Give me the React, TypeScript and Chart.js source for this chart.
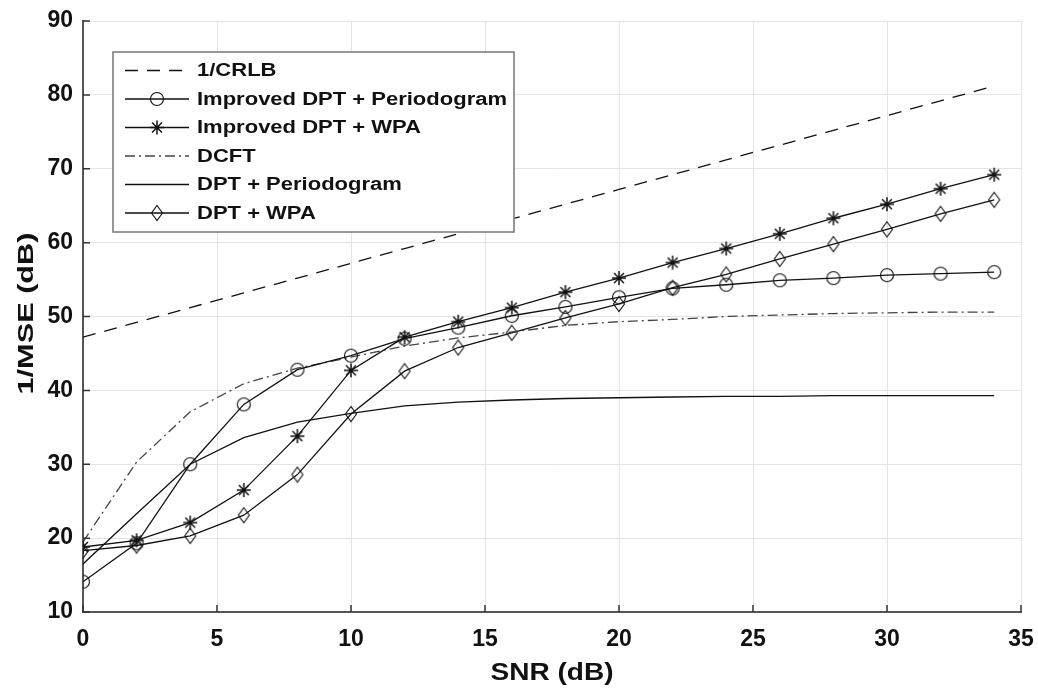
import React, { useEffect, useRef } from "react";
import { Chart, registerables } from "chart.js";
Chart.register(...registerables);

const snr = [0, 2, 4, 6, 8, 10, 12, 14, 16, 18, 20, 22, 24, 26, 28, 30, 32, 34];
const crlb = [47.2, 49.2, 51.2, 53.2, 55.2, 57.2, 59.2, 61.2, 63.2, 65.2, 67.2, 69.2, 71.2, 73.2, 75.2, 77.2, 79.2, 81.2];
const impDptPer = [14.1, 19.3, 30.0, 38.1, 42.8, 44.7, 47.0, 48.5, 50.1, 51.3, 52.6, 53.8, 54.3, 54.9, 55.2, 55.6, 55.8, 56.0];
const impDptWpa = [18.8, 19.7, 22.1, 26.5, 33.8, 42.7, 47.2, 49.3, 51.2, 53.3, 55.2, 57.3, 59.2, 61.2, 63.3, 65.2, 67.3, 69.2];
const dcft = [19.5, 30.3, 37.1, 40.9, 43.0, 44.5, 46.0, 47.1, 47.9, 48.8, 49.3, 49.6, 50.0, 50.2, 50.4, 50.5, 50.6, 50.6];
const dptPer = [16.5, 23.3, 30.0, 33.6, 35.7, 36.9, 37.9, 38.4, 38.7, 38.9, 39.0, 39.1, 39.2, 39.2, 39.3, 39.3, 39.3, 39.3];
const dptWpa = [18.3, 19.0, 20.3, 23.1, 28.6, 36.8, 42.6, 45.8, 47.8, 49.8, 51.7, 53.9, 55.7, 57.8, 59.8, 61.8, 63.9, 65.8];

const xTitle = "SNR (dB)";
const yTitle = "1/MSE (dB)";
const seriesNames = [
  "1/CRLB",
  "Improved DPT + Periodogram",
  "Improved DPT + WPA",
  "DCFT",
  "DPT + Periodogram",
  "DPT + WPA",
];
const seriesValues = [crlb, impDptPer, impDptWpa, dcft, dptPer, dptWpa];
const seriesMarkers = ["none", "circle", "star", "none", "none", "diamond"];
const seriesDash: number[][] = [[13, 9], [], [], [10, 4, 2, 4], [], []];

const FONT = "'Liberation Sans', Arial, Helvetica, sans-serif";

function drawMarker(ctx: CanvasRenderingContext2D, kind: string, x: number, y: number) {
  ctx.save();
  ctx.setLineDash([]);
  ctx.strokeStyle = "#111";
  ctx.lineWidth = 1.1;
  ctx.beginPath();
  if (kind === "circle") {
    ctx.arc(x, y, 6.5, 0, Math.PI * 2);
  } else if (kind === "diamond") {
    ctx.moveTo(x, y - 7.5);
    ctx.lineTo(x + 5.5, y);
    ctx.lineTo(x, y + 7.5);
    ctx.lineTo(x - 5.5, y);
    ctx.closePath();
  } else if (kind === "star") {
    const r = 7;
    const d = r * Math.SQRT1_2;
    ctx.lineWidth = 1.5;
    ctx.moveTo(x - r, y); ctx.lineTo(x + r, y);
    ctx.moveTo(x, y - r); ctx.lineTo(x, y + r);
    ctx.moveTo(x - d, y - d); ctx.lineTo(x + d, y + d);
    ctx.moveTo(x - d, y + d); ctx.lineTo(x + d, y - d);
  }
  ctx.stroke();
  ctx.restore();
}

function markerCanvas(kind: string): HTMLCanvasElement {
  const c = document.createElement("canvas");
  c.width = 18;
  c.height = 18;
  const ctx = c.getContext("2d")!;
  drawMarker(ctx, kind, 9, 9);
  return c;
}

function stretchedText(
  ctx: CanvasRenderingContext2D,
  text: string,
  x: number,
  y: number,
  size: number,
  width: number,
  align: "left" | "center",
  rotate = 0
) {
  ctx.save();
  ctx.font = `bold ${size}px ${FONT}`;
  const w = ctx.measureText(text).width;
  const sx = width / w;
  ctx.translate(x, y);
  if (rotate) ctx.rotate(rotate);
  ctx.scale(sx, 1);
  ctx.fillStyle = "#111";
  ctx.textBaseline = "middle";
  ctx.textAlign = align;
  ctx.fillText(text, 0, 0);
  ctx.restore();
}

const innerTicksPlugin = {
  id: "innerTicks",
  afterDatasetsDraw(chart: any) {
    const ctx = chart.ctx as CanvasRenderingContext2D;
    const xs = chart.scales.x;
    const ys = chart.scales.y;
    const area = chart.chartArea;
    ctx.save();
    ctx.strokeStyle = "#333";
    ctx.lineWidth = 1.5;
    ctx.beginPath();
    xs.ticks.forEach((t: any) => {
      const px = xs.getPixelForValue(t.value);
      ctx.moveTo(px, area.bottom);
      ctx.lineTo(px, area.bottom - 7);
    });
    ys.ticks.forEach((t: any) => {
      const py = ys.getPixelForValue(t.value);
      ctx.moveTo(area.left, py);
      ctx.lineTo(area.left + 7, py);
    });
    ctx.stroke();
    ctx.restore();
  },
};

const axisTitlesPlugin = {
  id: "axisTitles",
  afterDraw(chart: any) {
    const ctx = chart.ctx as CanvasRenderingContext2D;
    const area = chart.chartArea;
    const cx = (area.left + area.right) / 2;
    const cy = (area.top + area.bottom) / 2;
    stretchedText(ctx, xTitle, cx, 674, 23, 123, "center");
    stretchedText(ctx, yTitle, 27, cy - 3, 22, 162, "center", -Math.PI / 2);
  },
};

const boxLegendPlugin = {
  id: "boxLegend",
  afterDraw(chart: any) {
    const ctx = chart.ctx as CanvasRenderingContext2D;
    const left = 113, top = 52, right = 514, bottom = 232;
    ctx.save();
    ctx.fillStyle = "#fff";
    ctx.fillRect(left, top, right - left, bottom - top);
    ctx.strokeStyle = "#7f7f7f";
    ctx.lineWidth = 1.6;
    ctx.strokeRect(left, top, right - left, bottom - top);
    ctx.font = `bold 18px ${FONT}`;
    const ref = ctx.measureText(seriesNames[1]).width;
    const sx = 310 / ref;
    const rowY0 = 70.5;
    const step = 28.5;
    seriesNames.forEach((name, i) => {
      const y = rowY0 + i * step;
      ctx.save();
      ctx.strokeStyle = i === 3 ? "#444" : "#111";
      ctx.lineWidth = 1.3;
      ctx.setLineDash(seriesDash[i]);
      ctx.beginPath();
      ctx.moveTo(125, y);
      ctx.lineTo(189, y);
      ctx.stroke();
      ctx.restore();
      if (seriesMarkers[i] !== "none") drawMarker(ctx, seriesMarkers[i], 157, y);
      ctx.font = `bold 18px ${FONT}`;
      const w = ctx.measureText(name).width * sx;
      stretchedText(ctx, name, 197, y + 1, 18, w, "left");
    });
    ctx.restore();
  },
};

export default function App() {
  const ref = useRef<HTMLCanvasElement | null>(null);
  useEffect(() => {
    if (!ref.current) return;
    const datasets = seriesNames.map((name, i) => {
      const m = seriesMarkers[i];
      return {
        label: name,
        data: snr.map((x, j) => ({ x, y: seriesValues[i][j] })),
        borderColor: i === 3 ? "#444" : "#111",
        borderWidth: 1.3,
        borderDash: seriesDash[i],
        pointStyle: m === "none" ? false : (markerCanvas(m) as any),
        pointRadius: m === "none" ? 0 : 7,
        pointHoverRadius: m === "none" ? 0 : 7,
        fill: false,
        tension: 0,
      };
    });
    const chart = new Chart(ref.current, {
      type: "line",
      data: { datasets: datasets as any },
      options: {
        animation: false,
        responsive: false,
        layout: { padding: { top: 21, right: 17, left: 0, bottom: 0 } },
        plugins: { legend: { display: false }, tooltip: { enabled: false } },
        scales: {
          x: {
            type: "linear",
            min: 0,
            max: 35,
            ticks: {
              stepSize: 5,
              padding: 14,
              color: "#111",
              font: { family: FONT, size: 23, weight: "bold" },
            },
            grid: { color: "#e4e4e4", lineWidth: 1, drawTicks: false },
            border: { color: "#555", width: 2 },
            title: { display: false },
            afterFit: (s: any) => {
              s.height = 77;
              s.paddingLeft = 0;
              s.paddingRight = 0;
            },
          },
          y: {
            type: "linear",
            min: 10,
            max: 90,
            ticks: {
              stepSize: 10,
              padding: 10,
              color: "#111",
              font: { family: FONT, size: 23, weight: "bold" },
            },
            grid: { color: "#e4e4e4", lineWidth: 1, drawTicks: false },
            border: { color: "#555", width: 2 },
            title: { display: false },
            afterFit: (s: any) => {
              s.width = 83;
              s.paddingTop = 0;
              s.paddingBottom = 0;
            },
          },
        },
      },
      plugins: [innerTicksPlugin, axisTitlesPlugin, boxLegendPlugin],
    });
    return () => chart.destroy();
  }, []);
  return (
    <div style={{ position: "absolute", left: 0, top: 0, width: 1038, height: 689, background: "#fff" }}>
      <canvas ref={ref} width={1038} height={689} style={{ display: "block" }} />
    </div>
  );
}
